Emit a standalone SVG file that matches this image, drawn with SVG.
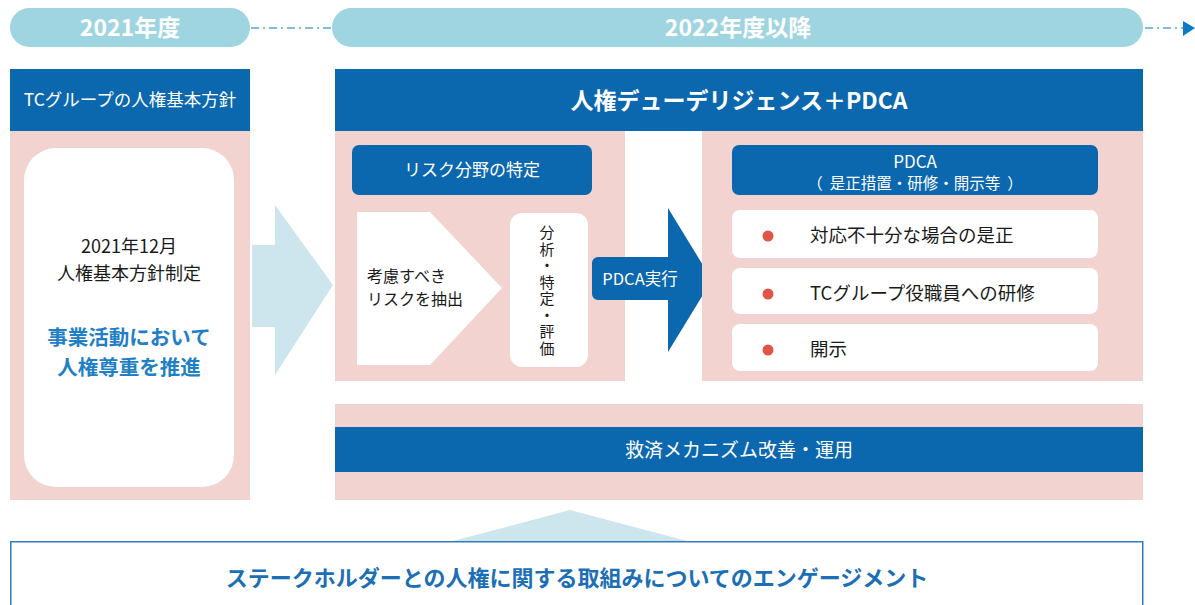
<svg xmlns="http://www.w3.org/2000/svg" width="1195" height="605" viewBox="0 0 1195 605">
<style>
text{font-family:"Noto Sans CJK JP","Noto Sans",sans-serif;}
.pill{fill:#9fd5e0;}
.pilltxt{fill:#ffffff;font-size:23px;font-weight:bold;text-anchor:middle;}
.hdr{fill:#0b67ae;}
.pink{fill:#f3d3cf;}
.wt{fill:#ffffff;font-size:17px;text-anchor:middle;}
.bk{fill:#1a1a1a;font-size:16px;}
.dash{stroke:#5ea7cf;stroke-width:1.5;stroke-dasharray:8 4 2 4;fill:none;}
.white{fill:#ffffff;}
.dot{fill:#e05545;}
</style>
<g id="timeline">
<rect class="pill" x="10" y="8" width="240" height="39" rx="19.5"/>
<text class="pilltxt" x="130" y="36">2021年度</text>
<rect class="pill" x="332" y="8" width="811" height="39" rx="19.5"/>
<text class="pilltxt" x="738" y="36">2022年度以降</text>
</g>
<g id="connectors">
<line class="dash" x1="251" y1="28" x2="331" y2="28"/>
<line class="dash" x1="1145" y1="28" x2="1183" y2="28"/>
<polygon points="1183,21 1195,28 1183,36" fill="#0b7cc4"/>
<polygon points="252,245 275,245 275,205 333,285 275,375 275,327 252,327" fill="#cde6ee"/>
<polygon points="453,541 570,510 687,541" fill="#cde6ee"/>
</g>
<g id="policy2021">
<rect class="hdr" x="10" y="69" width="240" height="62"/>
<text class="wt" x="130" y="106" style="font-size:17.5px">TCグループの人権基本方針</text>
<rect class="pink" x="10" y="131" width="240" height="369"/>
<rect class="white" x="24" y="148" width="210" height="339" rx="32"/>
<text text-anchor="middle" style="font-size:18px;fill:#1a1a1a"><tspan x="129" y="253">2021年12月</tspan><tspan x="129" y="280">人権基本方針制定</tspan></text>
<text text-anchor="middle" style="font-size:20.5px;font-weight:bold;fill:#1f80c6"><tspan x="129" y="345">事業活動において</tspan><tspan x="129" y="375">人権尊重を推進</tspan></text>
</g>
<g id="dd-header">
<rect class="hdr" x="335" y="69" width="808" height="62"/>
<text x="739" y="109" text-anchor="middle" style="font-size:23px;font-weight:bold;fill:#ffffff">人権デューデリジェンス＋PDCA</text>
</g>
<g id="risk">
<rect class="pink" x="335" y="131" width="290" height="250"/>
<rect class="hdr" x="352" y="145" width="240" height="50" rx="7"/>
<text class="wt" x="472" y="176">リスク分野の特定</text>
<polygon class="white" points="357,212 430,212 502,288 430,365 357,365"/>
<text class="bk"><tspan x="367" y="282">考慮すべき</tspan><tspan x="367" y="305">リスクを抽出</tspan></text>
<rect class="white" x="510" y="213" width="78" height="154" rx="12"/>
<text x="547" y="225" style="font-size:15px;fill:#1a1a1a;writing-mode:vertical-rl;letter-spacing:1.5px">分析・特定・評価</text>
</g>
<g id="pdca-exec">
<path d="M598,257 H668 V208 L712,280 L668,352 V300 H598 A6,6 0 0 1 592,294 V263 A6,6 0 0 1 598,257 Z" fill="#0b67ae"/>
<text x="640" y="285" text-anchor="middle" style="font-size:16.5px;fill:#ffffff">PDCA実行</text>
</g>
<g id="pdca">
<rect class="pink" x="702" y="131" width="441" height="250"/>
<rect class="hdr" x="732" y="145" width="366" height="50" rx="7"/>
<text text-anchor="middle" style="fill:#ffffff;white-space:pre"><tspan x="915" y="168" style="font-size:17px">PDCA</tspan><tspan x="915" y="189" style="font-size:15.5px">（  是正措置・研修・開示等  ）</tspan></text>
<rect class="white" x="732" y="210" width="366" height="48" rx="8"/>
<circle class="dot" cx="768" cy="236" r="5.5"/>
<text class="bk" x="810" y="242" style="font-size:18.5px">対応不十分な場合の是正</text>
<rect class="white" x="732" y="268" width="366" height="46" rx="8"/>
<circle class="dot" cx="768" cy="294" r="5.5"/>
<text class="bk" x="810" y="300" style="font-size:18.5px">TCグループ役職員への研修</text>
<rect class="white" x="732" y="324" width="366" height="47" rx="8"/>
<circle class="dot" cx="768" cy="350" r="5.5"/>
<text class="bk" x="810" y="356" style="font-size:18.5px">開示</text>
</g>
<g id="remedy">
<rect class="pink" x="335" y="404" width="808" height="96"/>
<rect class="hdr" x="335" y="427" width="808" height="45"/>
<text class="wt" x="739" y="457" style="font-size:19px">救済メカニズム改善・運用</text>
</g>
<g id="engagement">
<rect x="10.75" y="541.75" width="1132" height="70" fill="#ffffff" stroke="#2e7dc0" stroke-width="1.5"/>
<text x="577" y="586" text-anchor="middle" style="font-size:22px;font-weight:bold;fill:#1c6fb5">ステークホルダーとの人権に関する取組みについてのエンゲージメント</text>
</g>
</svg>
